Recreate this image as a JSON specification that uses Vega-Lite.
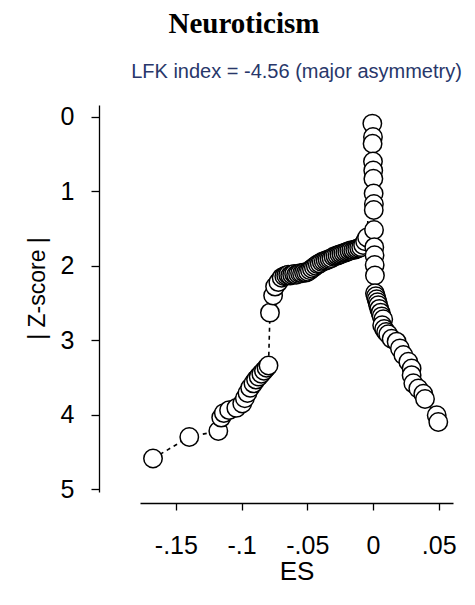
{
  "$schema": "https://vega.github.io/schema/vega-lite/v6.json",
  "padding": {"left": 26, "top": 9, "right": 5, "bottom": 5},
  "background": "white",
  "title": {"text": "Neuroticism", "font": "Liberation Serif", "fontSize": 29, "fontWeight": "bold", "color": "black", "anchor": "middle", "frame": "bounds", "offset": 23},
  "config": {
    "view": {"stroke": null},
    "axis": {"grid": false, "domainColor": "black", "tickColor": "black", "labelColor": "black", "titleColor": "black", "labelFont": "Liberation Sans", "titleFont": "Liberation Sans", "titleFontWeight": "normal", "domainWidth": 1.3, "tickWidth": 1.3}
  },
  "vconcat": [
    {
      "width": 313,
      "height": 387,
      "title": {"text": "LFK index = -4.56 (major asymmetry)", "font": "Liberation Sans", "fontSize": 20, "fontWeight": "normal", "color": "#28376A", "anchor": "middle", "frame": "group", "offset": 23},
      "data": {"values": [
        {"i": 1, "ES": -0.1674, "Z": 4.59},
        {"i": 2, "ES": -0.1398, "Z": 4.30},
        {"i": 3, "ES": -0.1177, "Z": 4.22},
        {"i": 4, "ES": -0.1155, "Z": 4.04},
        {"i": 5, "ES": -0.1135, "Z": 3.98},
        {"i": 6, "ES": -0.1095, "Z": 3.94},
        {"i": 7, "ES": -0.1040, "Z": 3.91},
        {"i": 8, "ES": -0.0995, "Z": 3.85},
        {"i": 9, "ES": -0.0975, "Z": 3.78},
        {"i": 10, "ES": -0.0955, "Z": 3.71},
        {"i": 11, "ES": -0.0935, "Z": 3.64},
        {"i": 12, "ES": -0.0910, "Z": 3.58},
        {"i": 13, "ES": -0.0890, "Z": 3.53},
        {"i": 14, "ES": -0.0870, "Z": 3.49},
        {"i": 15, "ES": -0.0850, "Z": 3.45},
        {"i": 16, "ES": -0.0830, "Z": 3.41},
        {"i": 17, "ES": -0.0810, "Z": 3.37},
        {"i": 18, "ES": -0.0795, "Z": 3.34},
        {"i": 19, "ES": -0.0784, "Z": 2.63},
        {"i": 20, "ES": -0.0760, "Z": 2.40},
        {"i": 21, "ES": -0.0745, "Z": 2.28},
        {"i": 22, "ES": -0.0720, "Z": 2.22},
        {"i": 23, "ES": -0.0695, "Z": 2.16},
        {"i": 24, "ES": -0.0675, "Z": 2.14},
        {"i": 25, "ES": -0.0660, "Z": 2.13},
        {"i": 26, "ES": -0.0645, "Z": 2.12},
        {"i": 27, "ES": -0.0630, "Z": 2.13},
        {"i": 28, "ES": -0.0615, "Z": 2.12},
        {"i": 29, "ES": -0.0600, "Z": 2.11},
        {"i": 30, "ES": -0.0585, "Z": 2.12},
        {"i": 31, "ES": -0.0570, "Z": 2.11},
        {"i": 32, "ES": -0.0555, "Z": 2.10},
        {"i": 33, "ES": -0.0540, "Z": 2.10},
        {"i": 34, "ES": -0.0525, "Z": 2.09},
        {"i": 35, "ES": -0.0510, "Z": 2.09},
        {"i": 36, "ES": -0.0495, "Z": 2.08},
        {"i": 37, "ES": -0.0480, "Z": 2.06},
        {"i": 38, "ES": -0.0465, "Z": 2.04},
        {"i": 39, "ES": -0.0450, "Z": 2.02},
        {"i": 40, "ES": -0.0435, "Z": 2.00},
        {"i": 41, "ES": -0.0420, "Z": 1.98},
        {"i": 42, "ES": -0.0405, "Z": 1.97},
        {"i": 43, "ES": -0.0390, "Z": 1.95},
        {"i": 44, "ES": -0.0375, "Z": 1.94},
        {"i": 45, "ES": -0.0360, "Z": 1.93},
        {"i": 46, "ES": -0.0345, "Z": 1.92},
        {"i": 47, "ES": -0.0330, "Z": 1.91},
        {"i": 48, "ES": -0.0315, "Z": 1.90},
        {"i": 49, "ES": -0.0300, "Z": 1.88},
        {"i": 50, "ES": -0.0285, "Z": 1.87},
        {"i": 51, "ES": -0.0270, "Z": 1.86},
        {"i": 52, "ES": -0.0255, "Z": 1.85},
        {"i": 53, "ES": -0.0240, "Z": 1.84},
        {"i": 54, "ES": -0.0225, "Z": 1.83},
        {"i": 55, "ES": -0.0210, "Z": 1.82},
        {"i": 56, "ES": -0.0195, "Z": 1.81},
        {"i": 57, "ES": -0.0180, "Z": 1.80},
        {"i": 58, "ES": -0.0165, "Z": 1.79},
        {"i": 59, "ES": -0.0150, "Z": 1.79},
        {"i": 60, "ES": -0.0135, "Z": 1.78},
        {"i": 61, "ES": -0.0120, "Z": 1.77},
        {"i": 62, "ES": -0.0105, "Z": 1.76},
        {"i": 63, "ES": -0.0090, "Z": 1.75},
        {"i": 64, "ES": -0.0075, "Z": 1.72},
        {"i": 65, "ES": -0.0060, "Z": 1.67},
        {"i": 66, "ES": -0.0045, "Z": 1.62},
        {"i": 67, "ES": -0.0005, "Z": 0.09},
        {"i": 68, "ES": 0.0000, "Z": 0.27},
        {"i": 69, "ES": -0.0003, "Z": 0.36},
        {"i": 70, "ES": 0.0000, "Z": 0.60},
        {"i": 71, "ES": 0.0002, "Z": 0.72},
        {"i": 72, "ES": 0.0003, "Z": 0.83},
        {"i": 73, "ES": 0.0005, "Z": 1.03},
        {"i": 74, "ES": 0.0007, "Z": 1.17},
        {"i": 75, "ES": 0.0006, "Z": 1.25},
        {"i": 76, "ES": 0.0008, "Z": 1.52},
        {"i": 77, "ES": 0.0010, "Z": 1.75},
        {"i": 78, "ES": 0.0012, "Z": 1.86},
        {"i": 79, "ES": 0.0013, "Z": 1.99},
        {"i": 80, "ES": 0.0015, "Z": 2.13},
        {"i": 81, "ES": 0.0015, "Z": 2.37},
        {"i": 82, "ES": 0.0022, "Z": 2.41},
        {"i": 83, "ES": 0.0028, "Z": 2.45},
        {"i": 84, "ES": 0.0035, "Z": 2.49},
        {"i": 85, "ES": 0.0040, "Z": 2.53},
        {"i": 86, "ES": 0.0048, "Z": 2.58},
        {"i": 87, "ES": 0.0058, "Z": 2.63},
        {"i": 88, "ES": 0.0066, "Z": 2.68},
        {"i": 89, "ES": 0.0078, "Z": 2.72},
        {"i": 90, "ES": 0.0070, "Z": 2.80},
        {"i": 91, "ES": 0.0085, "Z": 2.85},
        {"i": 92, "ES": 0.0100, "Z": 2.89},
        {"i": 93, "ES": 0.0116, "Z": 2.92},
        {"i": 94, "ES": 0.0142, "Z": 2.98},
        {"i": 95, "ES": 0.0180, "Z": 3.02},
        {"i": 96, "ES": 0.0205, "Z": 3.11},
        {"i": 97, "ES": 0.0231, "Z": 3.20},
        {"i": 98, "ES": 0.0269, "Z": 3.29},
        {"i": 99, "ES": 0.0294, "Z": 3.38},
        {"i": 100, "ES": 0.0294, "Z": 3.47},
        {"i": 101, "ES": 0.0307, "Z": 3.58},
        {"i": 102, "ES": 0.0345, "Z": 3.65},
        {"i": 103, "ES": 0.0383, "Z": 3.72},
        {"i": 104, "ES": 0.0396, "Z": 3.79},
        {"i": 105, "ES": 0.0485, "Z": 4.01},
        {"i": 106, "ES": 0.0497, "Z": 4.10}
      ]},
      "encoding": {
        "x": {"field": "ES", "type": "quantitative", "scale": {"domain": [-0.1773, 0.0609], "nice": false, "zero": false},
          "axis": {"title": "ES", "values": [-0.15, -0.1, -0.05, 0, 0.05], "labelExpr": "replace(replace(format(datum.value, '.2~f'), '\u2212', '-'), '0.', '.')", "offset": 11, "tickSize": 7, "labelFontSize": 25, "labelPadding": 23, "labelFlush": false, "titleFontSize": 26, "titlePadding": 0}},
        "y": {"field": "Z", "type": "quantitative", "scale": {"domain": [-0.16, 5.04], "reverse": true, "nice": false, "zero": false},
          "axis": {"title": "| Z-score |", "values": [0, 1, 2, 3, 4, 5], "offset": 41, "tickSize": 8, "labelFontSize": 25, "labelPadding": 17, "titleFontSize": 23, "titlePadding": 11, "titleY": 183}}
      },
      "layer": [
        {
          "data": {"values": [{}]},
          "mark": {"type": "rule", "color": "black", "strokeWidth": 1.3},
          "encoding": {"x": {"datum": 0}, "y": {"datum": 0.09}, "y2": {"datum": 5}}
        },
        {
          "mark": {"type": "line", "color": "black", "strokeDash": [4, 4], "strokeWidth": 1.6},
          "encoding": {"order": {"field": "i", "type": "quantitative"}}
        },
        {
          "mark": {"type": "point", "shape": "circle", "filled": true, "fill": "white", "stroke": "black", "strokeWidth": 1.5, "size": 340, "opacity": 1},
          "encoding": {}
        }
      ]
    }
  ]
}
